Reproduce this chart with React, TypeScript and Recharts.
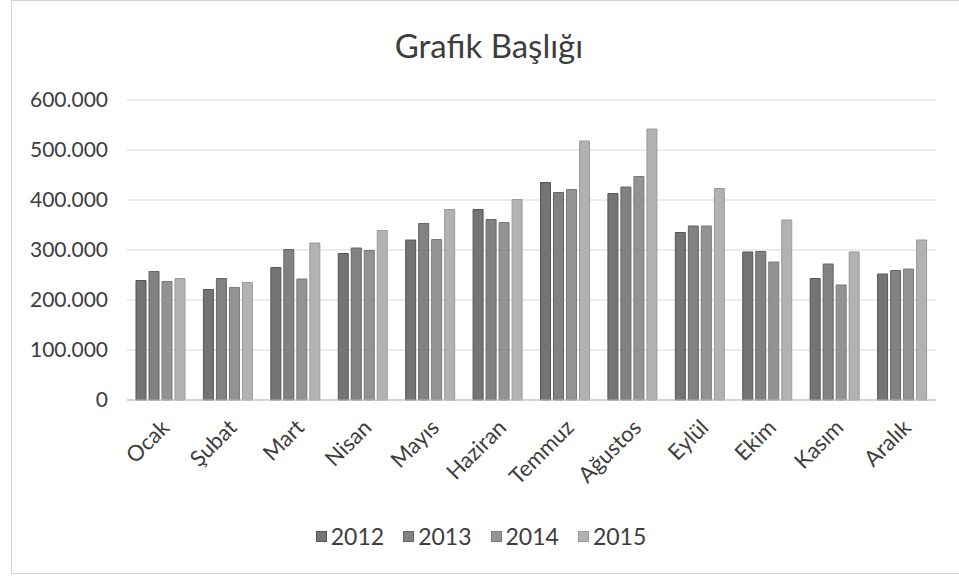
import { Bar, BarChart, CartesianGrid, Legend, XAxis, YAxis } from 'recharts'

const months = ['Ocak', 'Şubat', 'Mart', 'Nisan', 'Mayıs', 'Haziran', 'Temmuz', 'Ağustos', 'Eylül', 'Ekim', 'Kasım', 'Aralık']
const y2012 = [239000, 221000, 265000, 293000, 320000, 381000, 435000, 413000, 335000, 296000, 243000, 252000]
const y2013 = [257000, 243000, 301000, 304000, 353000, 361000, 415000, 426000, 348000, 297000, 272000, 259000]
const y2014 = [237000, 225000, 242000, 299000, 321000, 355000, 421000, 447000, 348000, 276000, 230000, 262000]
const y2015 = [243000, 235000, 314000, 339000, 381000, 401000, 518000, 542000, 423000, 360000, 296000, 320000]
const yTicks = [0, 100000, 200000, 300000, 400000, 500000, 600000]

const series = [
  { key: '2012', fill: '#747474', stroke: '#555555' },
  { key: '2013', fill: '#828282', stroke: '#656565' },
  { key: '2014', fill: '#939393', stroke: '#7a7a7a' },
  { key: '2015', fill: '#b2b2b2', stroke: '#9a9a9a' },
]

const data = months.map((m, i) => ({
  month: m,
  '2012': y2012[i],
  '2013': y2013[i],
  '2014': y2014[i],
  '2015': y2015[i],
}))

const font = 'Lato, "Open Sans", sans-serif'
const ink = '#3d3d3d'

function fmt(v: number) {
  return v === 0 ? '0' : new Intl.NumberFormat('tr-TR').format(v)
}

function MonthTick({ x, y, payload }: any) {
  const tx = x + 4
  const ty = y + 15
  return (
    <text
      x={tx}
      y={ty}
      transform={`rotate(-45 ${tx} ${ty})`}
      textAnchor="end"
      fontSize={22}
      fill={ink}
      fontFamily={font}
      dominantBaseline="central"
    >
      {payload.value}
    </text>
  )
}

function LegendBox() {
  return (
    <div style={{ display: 'flex', justifyContent: 'center', gap: 19, fontFamily: font, fontSize: 23, color: ink, paddingTop: 2, paddingLeft: 26 }}>
      {series.map((s) => (
        <div key={s.key} style={{ display: 'flex', alignItems: 'center' }}>
          <span style={{ width: 9, height: 9, background: s.fill, border: `1px solid ${s.stroke}`, marginRight: 4 }} />
          {s.key}
        </div>
      ))}
    </div>
  )
}

export default function App() {
  return (
    <div style={{ position: 'absolute', left: 0, top: 0, width: 959, height: 577, background: '#fff', overflow: 'hidden' }}>
      <div style={{ position: 'absolute', left: 11, top: 0, width: 960, height: 572, border: '1px solid #d4d4d4' }} />
      <div style={{ position: 'absolute', left: 0, top: 25, width: 978, textAlign: 'center', fontFamily: font, fontSize: 33, color: ink }}>
        Grafik Başlığı
      </div>
      <BarChart
        width={959}
        height={577}
        data={data}
        margin={{ top: 100, right: 23, bottom: 0, left: 0 }}
        barSize={10}
        barGap={3}
      >
        <CartesianGrid vertical={false} stroke="#d9d9d9" />
        <XAxis
          dataKey="month"
          height={120}
          axisLine={{ stroke: '#bdbdbd' }}
          tickLine={false}
          interval={0}
          tick={<MonthTick />}
        />
        <YAxis
          width={127}
          domain={[0, 600000]}
          ticks={yTicks}
          axisLine={false}
          tickLine={false}
          tickMargin={13}
          tickFormatter={fmt}
          tick={{ fontSize: 21, fill: ink, fontFamily: font }}
        />
        <Legend verticalAlign="bottom" height={57} content={<LegendBox />} />
        {series.map((s) => (
          <Bar key={s.key} dataKey={s.key} fill={s.fill} stroke={s.stroke} strokeWidth={1} isAnimationActive={false} />
        ))}
      </BarChart>
    </div>
  )
}
